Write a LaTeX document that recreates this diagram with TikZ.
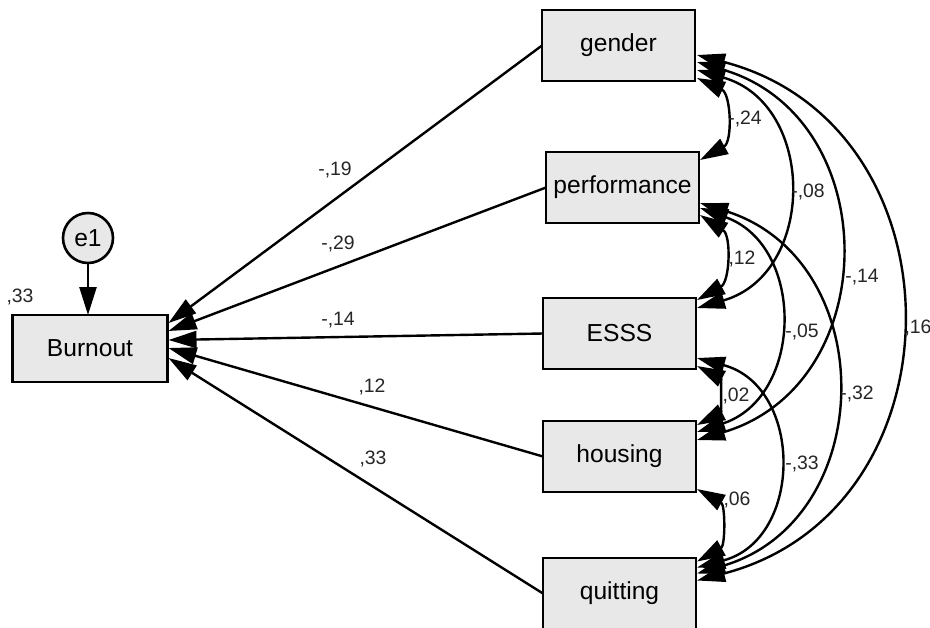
\documentclass[tikz,border=0pt]{standalone}
\usepackage{fontspec}
\setmainfont{Liberation Sans}
\usetikzlibrary{arrows.meta,positioning,calc}

\begin{document}
\begin{tikzpicture}[
    x=0.5pt, y=0.5pt,
    var/.style={rectangle, draw, line width=1.4pt, fill=black!9, outer sep=0pt, inner sep=0pt, minimum width=76.5pt, minimum height=35.5pt, font=\fontsize{12.3}{14}\selectfont},
    err/.style={circle, draw, line width=1.3pt, fill=black!9, outer sep=0pt, inner sep=0pt, minimum size=25pt, font=\fontsize{12.3}{14}\selectfont},
    est/.style={inner sep=0pt, text=black!85, font=\fontsize{9.7}{11}\selectfont},
    regr/.style={-{Triangle[length=14pt,width=8.5pt]}, line width=1.2pt},
    cov/.style={{Triangle[length=14pt,width=8.5pt]}-{Triangle[length=14pt,width=8.5pt]}, line width=1.2pt}
]
\useasboundingbox (0,0) rectangle (930,-627);

% Outcome and its error term
\node[var, minimum width=77.5pt, minimum height=33.5pt] (burnout) at (90,-348.5) {Burnout};
\node[err, above=26pt of burnout, xshift=-1pt] (e1) {e1};
\node[est] (r2) at (20,-297) {,33};

% Predictors
\node[var] (gender) at (618.5,-45.5) {gender};
\node[var, below=35.5pt of gender, xshift=2pt] (perf) {performance};
\node[var, below=37.5pt of perf, xshift=-1.5pt] (esss) {ESSS};
\node[var, below=26pt of esss] (housing) {housing};
\node[var, below=33pt of housing] (quit) {quitting};

% Regression paths
\draw[regr] (e1.south) -- (e1.south |- burnout.north);
\draw[regr] (gender.west) -- ($(burnout.east)+(1,25.5)$);
\draw[regr] (perf.west) -- ($(burnout.east)+(1,17.5)$);
\draw[regr] (esss.west) -- ($(burnout.east)+(1,8.5)$);
\draw[regr] (housing.west) -- ($(burnout.east)+(1,0.5)$);
\draw[regr] (quit.west) -- ($(burnout.east)+(1,-9.5)$);

\node[est] (bGender) at (335,-170) {-,19};
\node[est] (bPerf) at (338,-244) {-,29};
\node[est] (bEsss) at (338,-320) {-,14};
\node[est] (bHousing) at (372,-387) {,12};
\node[est] (bQuit) at (373,-459) {,33};

% Covariances between neighbours
\draw[cov] ($(gender.east)+(2,-32.5)$) to[bend left=63, looseness=1.17] ($(perf.east)+(1,27.5)$);
\draw[cov] ($(perf.east)+(1,-27.5)$) to[bend left=59, looseness=1.13] ($(esss.east)+(1,33.5)$);
\draw[cov] ($(esss.east)+(1,-32.5)$) to[bend left=63, looseness=1.17] ($(housing.east)+(1,31.5)$);
\draw[cov] ($(housing.east)+(1,-32.5)$) to[bend left=61, looseness=1.15] ($(quit.east)+(1,32)$);

% Covariances spanning more boxes
\draw[cov] ($(gender.east)+(2,-24.5)$) to[bend left=74, looseness=1.34] ($(esss.east)+(1,25.5)$);
\draw[cov] ($(gender.east)+(2,-16.5)$) to[bend left=73.5, looseness=1.33] ($(housing.east)+(1,16.5)$);
\draw[cov] ($(gender.east)+(2,-9.5)$) to[bend left=75.4, looseness=1.36] ($(quit.east)+(1,13)$);
\draw[cov] ($(perf.east)+(1,-20.5)$) to[bend left=71, looseness=1.28] ($(housing.east)+(1,24.5)$);
\draw[cov] ($(perf.east)+(1,-15.5)$) to[bend left=73, looseness=1.31] ($(quit.east)+(1,20)$);
\draw[cov] ($(esss.east)+(1,-24.5)$) to[bend left=75, looseness=1.35] ($(quit.east)+(1,26)$);

\node[est] (cGP) at (745,-119) {-,24};
\node[est] (cGE) at (808,-192) {-,08};
\node[est] (cGH) at (862,-277) {-,14};
\node[est] (cGQ) at (918,-328) {,16};
\node[est] (cPE) at (742,-259) {,12};
\node[est] (cPH) at (802,-332) {-,05};
\node[est] (cPQ) at (857,-394) {-,32};
\node[est] (cEH) at (736,-396) {,02};
\node[est] (cEQ) at (802,-464) {-,33};
\node[est] (cHQ) at (737,-500) {,06};

\end{tikzpicture}
\end{document}
